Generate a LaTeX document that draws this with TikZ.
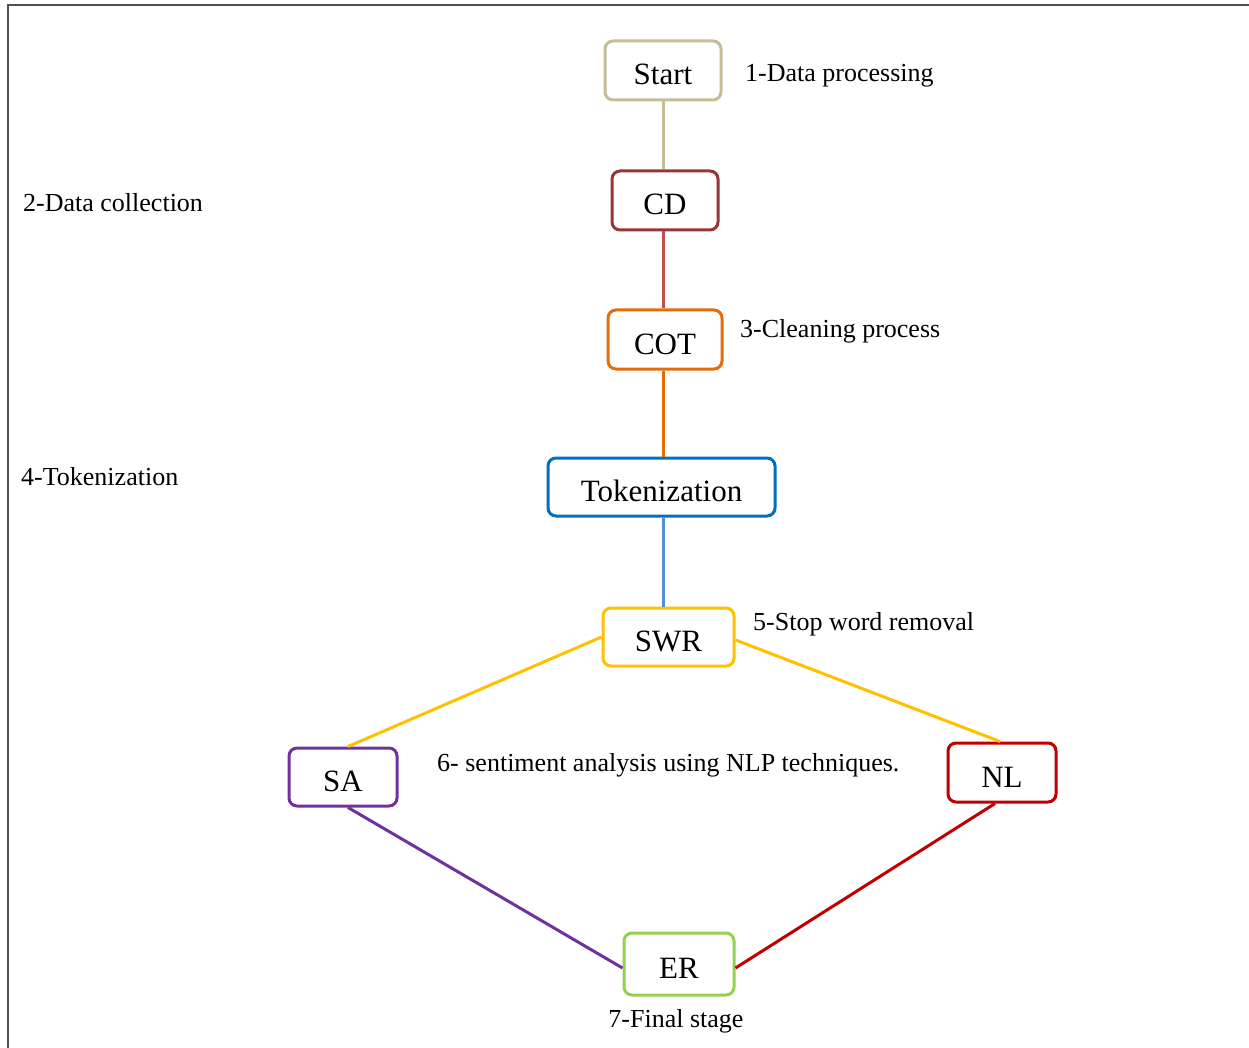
\documentclass[tikz,border=0pt]{standalone}
\usepackage{fontspec}
\setmainfont{Liberation Serif}
\definecolor{ctan}{HTML}{C4BD97}
\definecolor{ccd}{HTML}{953735}
\definecolor{ccdl}{HTML}{C0504D}
\definecolor{ccot}{HTML}{E46C0A}
\definecolor{ctok}{HTML}{0070C0}
\definecolor{ctokl}{HTML}{558ED5}
\definecolor{cswr}{HTML}{FFC000}
\definecolor{csa}{HTML}{7030A0}
\definecolor{cnl}{HTML}{C00000}
\definecolor{cer}{HTML}{92D050}
\definecolor{cframe}{HTML}{505050}
\tikzset{
  stepbox/.style={draw, line width=3pt, rounded corners=8pt, fill=white, inner sep=0pt,
    text height=29pt, text depth=0pt, font=\fontsize{31}{37}\selectfont},
  lbl/.style={anchor=base west, inner sep=0pt, font=\fontsize{26}{31}\selectfont},
  conn/.style={line width=3pt}
}
\begin{document}
\begin{tikzpicture}[x=1pt,y=-1pt]
\useasboundingbox (0,0) rectangle (1249,1048);
% frame
\coordinate (fc) at (8,5);
\coordinate (fr) at (1249,5);
\coordinate (fb) at (8,1048);
\draw[cframe, line width=1.5pt] (fb) -- (fc) -- (fr);

\node[stepbox, draw=ctan, minimum width=116pt, minimum height=59pt] (start) at (663,70.5) {Start};
\node[stepbox, draw=ccd, minimum width=106pt, minimum height=59pt] (cd) at (665,200.5) {CD};
\node[stepbox, draw=ccot, minimum width=114pt, minimum height=59pt] (cot) at (665,339.5) {COT};
\node[stepbox, draw=ctok, minimum width=227pt, minimum height=58pt] (tok) at (661.5,487) {Tokenization};
\node[stepbox, draw=cswr, minimum width=131pt, minimum height=58pt] (swr) at (668.5,637) {SWR};
\node[stepbox, draw=csa, minimum width=108pt, minimum height=58pt] (sa) at (343,777) {SA};
\node[stepbox, draw=cnl, minimum width=108pt, minimum height=59pt] (nl) at (1002,772.5) {NL};
\node[stepbox, draw=cer, minimum width=110pt, minimum height=62pt] (er) at (679,964) {ER};

\draw[conn, ctan] (start.south) -- (start.south |- cd.north);
\draw[conn, ccdl] ([xshift=-2pt]cd.south) -- ([xshift=-2pt]cd.south |- cot.north);
\draw[conn, ccot] ([xshift=-2pt]cot.south) -- ([xshift=-2pt]cot.south |- tok.north);
\draw[conn, ctokl] ([xshift=1.5pt]tok.south) -- ([xshift=1.5pt]tok.south |- swr.north);
\draw[conn, cswr] (swr.west) -- ([xshift=5pt]sa.north);
\draw[conn, cswr] ([yshift=-3pt]swr.east) -- ([xshift=-2pt]nl.north);
\draw[conn, csa] ([xshift=5pt]sa.south) -- ([yshift=-4pt]er.west);
\draw[conn, cnl] ([xshift=-7pt]nl.south) -- ([yshift=-4pt]er.east);

% labels
\node[lbl] (l1) at (745,82) {1-Data processing};
\node[lbl] (l2) at (23,212) {2-Data collection};
\node[lbl] (l3) at (740,337) {3-Cleaning process};
\node[lbl] (l4) at (21,485) {4-Tokenization};
\node[lbl] (l5) at (753,630) {5-Stop word removal};
\node[lbl] (l6) at (437,771) {6- sentiment analysis using NLP techniques.};
\node[anchor=base, inner sep=0pt, font=\fontsize{26}{31}\selectfont] (l7) at (676,1027) {7-Final stage};
\end{tikzpicture}
\end{document}
